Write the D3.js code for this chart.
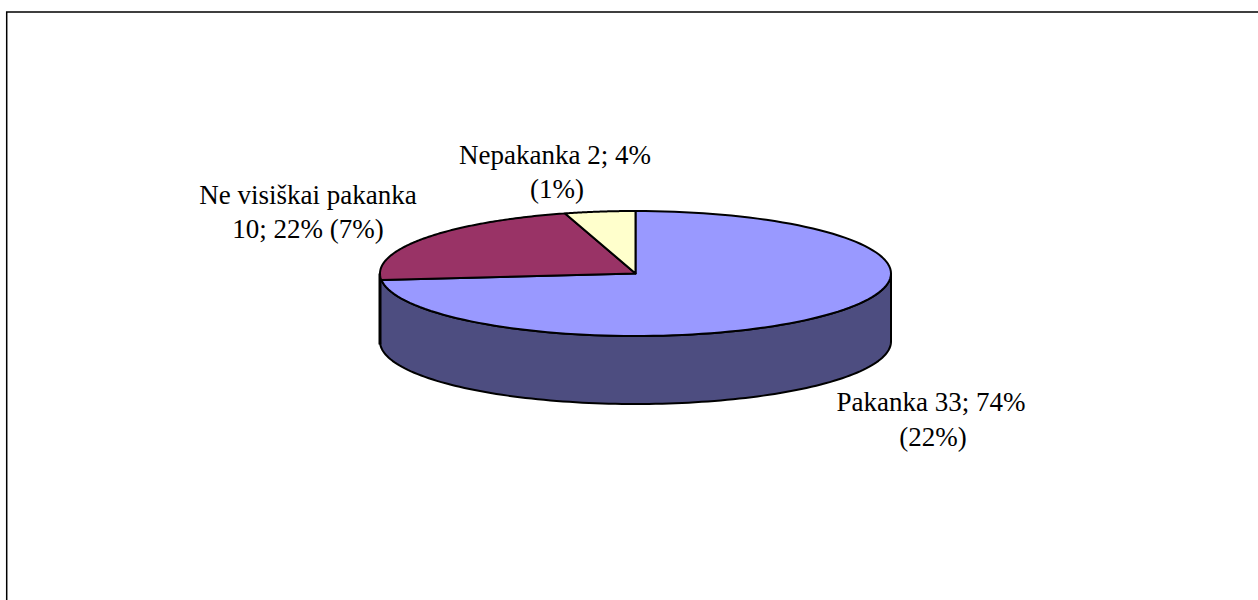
<!DOCTYPE html>
<html><head><meta charset="utf-8">
<style>html,body{margin:0;padding:0;background:#fff;overflow:hidden}svg{display:block}text{font-family:"Liberation Serif",serif;font-size:27px;fill:#000;text-anchor:middle}</style>
<script src="https://cdn.jsdelivr.net/npm/d3@7"></script></head>
<body><svg id="c" width="1258" height="600"></svg>
<script>
const categories = ["Pakanka", "Ne visiškai pakanka", "Nepakanka"];
const values = [33, 10, 2];
const topColors = ["#9999FF", "#993366", "#FFFFCC"];
const sideColor = "#4D4D80";
const labelLines = [["Pakanka 33; 74%", "(22%)"], ["Ne visiškai pakanka", "10; 22% (7%)"], ["Nepakanka 2; 4%", "(1%)"]];
const labelAnchors = [[931, 411], [308, 204], [555, 164]];
const secondLineShift = [[2, 35], [0, 34], [2, 34]];

const svg = d3.select("#c");
svg.append("rect").attr("x", 6.7).attr("y", 12).attr("width", 1400).attr("height", 800)
  .attr("fill", "#fff").attr("stroke", "#000").attr("stroke-width", 1.5);

const cx = 635.5, cy = 273.5, rx = 255.5, ry = 62.5, depth = 68;
const sx = d3.scaleLinear().domain([-1, 1]).range([cx - rx, cx + rx]);
const sy = d3.scaleLinear().domain([-1, 1]).range([cy - ry, cy + ry]);
const pie = d3.pie().sort(null).value(d => d)(values);
const pt = (a, dy = 0) => [sx(Math.sin(a)), sy(-Math.cos(a)) + dy];
const arcPts = (a0, a1, dy = 0) => d3.range(0, 121).map(i => pt(a0 + (a1 - a0) * i / 120, dy));
const line = d3.line();

// Side wall: the visible lower half of the disc
const a0 = Math.PI / 2, a1 = 3 * Math.PI / 2;
const side = arcPts(a0, a1).concat(arcPts(a1, a0, depth));
svg.append("path").attr("d", line(side) + "Z").attr("fill", sideColor)
  .attr("stroke", "#000").attr("stroke-width", 2).attr("stroke-linejoin", "round");
// Heavier left edge of the wall
svg.append("line").attr("x1", sx(-1)).attr("x2", sx(-1)).attr("y1", cy).attr("y2", cy + depth + 3)
  .attr("stroke", "#000").attr("stroke-width", 3);

// Top face
svg.selectAll("path.top").data(pie).join("path").attr("class", "top")
  .attr("d", d => line([[cx, cy]].concat(arcPts(d.startAngle, d.endAngle))) + "Z")
  .attr("fill", (d, i) => topColors[i])
  .attr("stroke", "#000").attr("stroke-width", 2).attr("stroke-linejoin", "round");

// Labels
labelLines.forEach((ls, i) => {
  const [x, y] = labelAnchors[i], [dx, dy] = secondLineShift[i];
  svg.append("text").attr("x", x).attr("y", y).text(ls[0]);
  svg.append("text").attr("x", x + dx).attr("y", y + dy).text(ls[1]);
});
</script></body></html>
